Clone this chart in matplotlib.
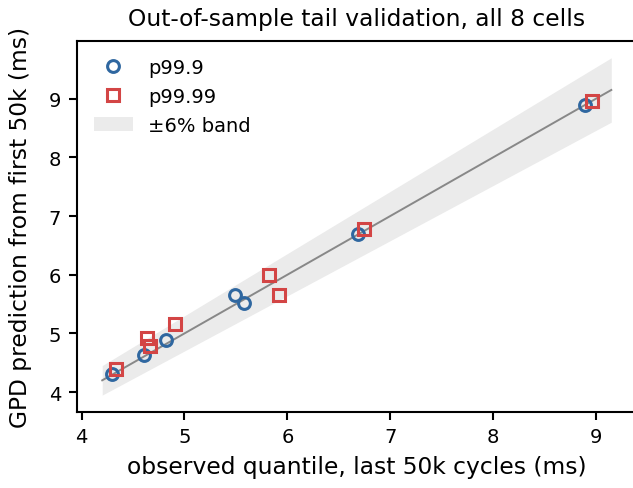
import matplotlib
matplotlib.use("Agg")
import matplotlib.pyplot as plt
import numpy as np

# p99.9 (observed, predicted)
p999_obs = [4.30, 4.61, 4.82, 5.49, 5.58, 6.69, 8.89]
p999_pred = [4.31, 4.64, 4.89, 5.65, 5.52, 6.70, 8.90]
# p99.99
p9999_obs = [4.33, 4.64, 4.66, 4.91, 5.82, 5.92, 6.75, 8.96]
p9999_pred = [4.39, 4.92, 4.79, 5.16, 6.00, 5.65, 6.78, 8.97]
band_range = [4.2, 9.15]
band_frac = 0.06

W, H = 633, 489
fig = plt.figure(figsize=(W / 100, H / 100), dpi=100)
l, r, b, t = 76.5, 637, 413, 41.7
ax = fig.add_axes([l / W, 1 - b / H, (r - l) / W, (b - t) / H])

xs = np.array(band_range)
ax.fill_between(xs, xs * (1 - band_frac), xs * (1 + band_frac), color="#ebebeb",
                linewidth=0, label="±6% band", zorder=1)
ax.plot(xs, xs, color="#888888", lw=1.4, zorder=2)
ax.plot(p999_obs, p999_pred, "o", mfc="none", mec="#2f67a0", mew=2.2, ms=8.5,
        label="p99.9", zorder=3)
ax.plot(p9999_obs, p9999_pred, "s", mfc="none", mec="#d34545", mew=2.2, ms=8.5,
        label="p99.99", zorder=4)

ax.set_xlim(3.95, 9.40)
ax.set_ylim(3.66, 9.99)
ax.set_xticks([4, 5, 6, 7, 8, 9])
ax.set_yticks([4, 5, 6, 7, 8, 9])
ax.tick_params(labelsize=14, width=1.5, length=6, pad=5)
for s in ax.spines.values():
    s.set_linewidth(1.5)
ax.set_xlabel("observed quantile, last 50k cycles (ms)", fontsize=16.8, labelpad=6)
ax.set_ylabel("GPD prediction from first 50k (ms)", fontsize=16.8, labelpad=12)
ax.set_title("Out-of-sample tail validation, all 8 cells", fontsize=16.8, pad=11.5)

h, lb = ax.get_legend_handles_labels()
order = [lb.index("p99.9"), lb.index("p99.99"), lb.index("±6% band")]
ax.legend([h[i] for i in order], [lb[i] for i in order], loc="upper left",
          frameon=False, fontsize=14)

fig.savefig("out.png", dpi=100)
